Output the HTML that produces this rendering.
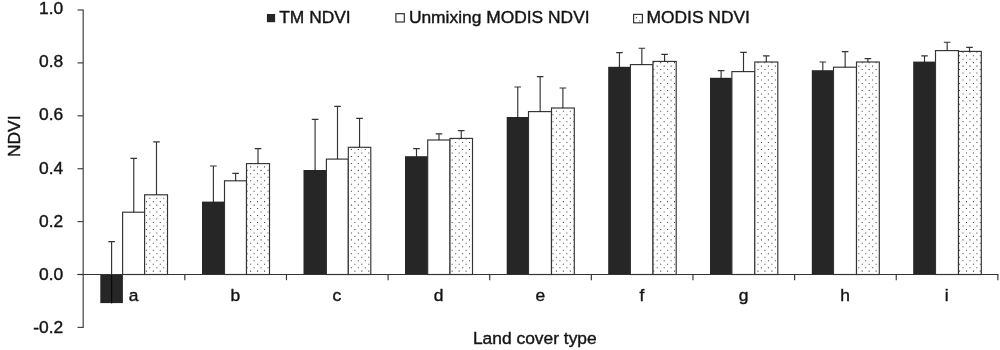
<!DOCTYPE html>
<html><head><meta charset="utf-8"><title>NDVI chart</title>
<style>
html,body{margin:0;padding:0;background:#fff;}
body{width:1000px;height:350px;overflow:hidden;}
svg{display:block;will-change:transform;}
text{font-family:"Liberation Sans",sans-serif;font-size:17.4px;fill:#141414;stroke:#141414;stroke-width:0.4px;}
</style></head><body>
<svg width="1000" height="350" viewBox="0 0 1000 350">
<rect width="1000" height="350" fill="#fff"/>

<rect x="100.30" y="274.10" width="22.60" height="29.00" fill="#262626"/>
<path d="M111.60 303.60V241.60M108.30 241.60H114.90" stroke="#000" stroke-opacity="0.8" stroke-width="1.15" fill="none"/>
<rect x="122.60" y="212.20" width="22.00" height="62.30" fill="#fff" stroke="#333" stroke-width="1.15"/>
<path d="M133.75 212.20V158.40M130.45 158.40H137.05" stroke="#000" stroke-opacity="0.8" stroke-width="1.15" fill="none"/>
<rect x="144.60" y="194.80" width="22.90" height="79.70" fill="#fff" stroke="#333" stroke-width="1.15"/>
<path d="M156.50 194.80V141.80M153.20 141.80H159.80" stroke="#000" stroke-opacity="0.8" stroke-width="1.15" fill="none"/>
<rect x="202.00" y="201.60" width="22.80" height="73.30" fill="#262626"/>
<path d="M213.40 202.00V166.00M210.10 166.00H216.70" stroke="#000" stroke-opacity="0.8" stroke-width="1.15" fill="none"/>
<rect x="224.50" y="180.80" width="22.00" height="93.70" fill="#fff" stroke="#333" stroke-width="1.15"/>
<path d="M235.65 180.80V173.40M232.35 173.40H238.95" stroke="#000" stroke-opacity="0.8" stroke-width="1.15" fill="none"/>
<rect x="246.50" y="163.60" width="23.00" height="110.90" fill="#fff" stroke="#333" stroke-width="1.15"/>
<path d="M258.00 163.60V148.60M254.70 148.60H261.30" stroke="#000" stroke-opacity="0.8" stroke-width="1.15" fill="none"/>
<rect x="303.50" y="170.00" width="23.20" height="104.90" fill="#262626"/>
<path d="M315.10 170.40V119.40M311.80 119.40H318.40" stroke="#000" stroke-opacity="0.8" stroke-width="1.15" fill="none"/>
<rect x="326.40" y="159.10" width="21.90" height="115.40" fill="#fff" stroke="#333" stroke-width="1.15"/>
<path d="M337.50 159.10V106.40M334.20 106.40H340.80" stroke="#000" stroke-opacity="0.8" stroke-width="1.15" fill="none"/>
<rect x="348.30" y="147.30" width="22.50" height="127.20" fill="#fff" stroke="#333" stroke-width="1.15"/>
<path d="M359.55 147.30V118.40M356.25 118.40H362.85" stroke="#000" stroke-opacity="0.8" stroke-width="1.15" fill="none"/>
<rect x="405.00" y="156.20" width="23.00" height="118.70" fill="#262626"/>
<path d="M416.50 156.60V148.60M413.20 148.60H419.80" stroke="#000" stroke-opacity="0.8" stroke-width="1.15" fill="none"/>
<rect x="427.70" y="140.00" width="22.30" height="134.50" fill="#fff" stroke="#333" stroke-width="1.15"/>
<path d="M439.00 140.00V133.80M435.70 133.80H442.30" stroke="#000" stroke-opacity="0.8" stroke-width="1.15" fill="none"/>
<rect x="450.00" y="138.40" width="22.50" height="136.10" fill="#fff" stroke="#333" stroke-width="1.15"/>
<path d="M461.25 138.40V130.60M457.95 130.60H464.55" stroke="#000" stroke-opacity="0.8" stroke-width="1.15" fill="none"/>
<rect x="506.70" y="117.00" width="22.10" height="157.90" fill="#262626"/>
<path d="M517.75 117.40V87.00M514.45 87.00H521.05" stroke="#000" stroke-opacity="0.8" stroke-width="1.15" fill="none"/>
<rect x="528.50" y="111.60" width="23.00" height="162.90" fill="#fff" stroke="#333" stroke-width="1.15"/>
<path d="M540.15 111.60V76.60M536.85 76.60H543.45" stroke="#000" stroke-opacity="0.8" stroke-width="1.15" fill="none"/>
<rect x="551.50" y="108.00" width="22.80" height="166.50" fill="#fff" stroke="#333" stroke-width="1.15"/>
<path d="M562.90 108.00V88.00M559.60 88.00H566.20" stroke="#000" stroke-opacity="0.8" stroke-width="1.15" fill="none"/>
<rect x="608.20" y="66.80" width="22.50" height="208.10" fill="#262626"/>
<path d="M619.45 67.20V52.60M616.15 52.60H622.75" stroke="#000" stroke-opacity="0.8" stroke-width="1.15" fill="none"/>
<rect x="630.40" y="64.60" width="22.60" height="209.90" fill="#fff" stroke="#333" stroke-width="1.15"/>
<path d="M641.85 64.60V48.20M638.55 48.20H645.15" stroke="#000" stroke-opacity="0.8" stroke-width="1.15" fill="none"/>
<rect x="653.00" y="61.40" width="23.20" height="213.10" fill="#fff" stroke="#333" stroke-width="1.15"/>
<path d="M664.60 61.40V54.40M661.30 54.40H667.90" stroke="#000" stroke-opacity="0.8" stroke-width="1.15" fill="none"/>
<rect x="710.00" y="77.80" width="22.20" height="197.10" fill="#262626"/>
<path d="M721.10 78.20V70.60M717.80 70.60H724.40" stroke="#000" stroke-opacity="0.8" stroke-width="1.15" fill="none"/>
<rect x="731.90" y="71.60" width="22.90" height="202.90" fill="#fff" stroke="#333" stroke-width="1.15"/>
<path d="M743.50 71.60V52.40M740.20 52.40H746.80" stroke="#000" stroke-opacity="0.8" stroke-width="1.15" fill="none"/>
<rect x="754.80" y="62.00" width="23.00" height="212.50" fill="#fff" stroke="#333" stroke-width="1.15"/>
<path d="M766.30 62.00V55.80M763.00 55.80H769.60" stroke="#000" stroke-opacity="0.8" stroke-width="1.15" fill="none"/>
<rect x="811.80" y="70.20" width="22.00" height="204.70" fill="#262626"/>
<path d="M822.80 70.60V62.00M819.50 62.00H826.10" stroke="#000" stroke-opacity="0.8" stroke-width="1.15" fill="none"/>
<rect x="833.50" y="67.20" width="23.00" height="207.30" fill="#fff" stroke="#333" stroke-width="1.15"/>
<path d="M845.15 67.20V51.60M841.85 51.60H848.45" stroke="#000" stroke-opacity="0.8" stroke-width="1.15" fill="none"/>
<rect x="856.50" y="62.00" width="22.80" height="212.50" fill="#fff" stroke="#333" stroke-width="1.15"/>
<path d="M867.90 62.00V58.60M864.60 58.60H871.20" stroke="#000" stroke-opacity="0.8" stroke-width="1.15" fill="none"/>
<rect x="913.20" y="61.60" width="22.60" height="213.30" fill="#262626"/>
<path d="M924.50 62.00V55.80M921.20 55.80H927.80" stroke="#000" stroke-opacity="0.8" stroke-width="1.15" fill="none"/>
<rect x="935.50" y="50.60" width="23.00" height="223.90" fill="#fff" stroke="#333" stroke-width="1.15"/>
<path d="M947.15 50.60V42.20M943.85 42.20H950.45" stroke="#000" stroke-opacity="0.8" stroke-width="1.15" fill="none"/>
<rect x="958.50" y="51.40" width="22.80" height="223.10" fill="#fff" stroke="#333" stroke-width="1.15"/>
<path d="M969.50 51.40V47.40M966.20 47.40H972.80" stroke="#000" stroke-opacity="0.8" stroke-width="1.15" fill="none"/>
<clipPath id="cp"><rect x="144.60" y="194.80" width="22.90" height="79.70"/><rect x="246.50" y="163.60" width="23.00" height="110.90"/><rect x="348.30" y="147.30" width="22.50" height="127.20"/><rect x="450.00" y="138.40" width="22.50" height="136.10"/><rect x="551.50" y="108.00" width="22.80" height="166.50"/><rect x="653.00" y="61.40" width="23.20" height="213.10"/><rect x="754.80" y="62.00" width="23.00" height="212.50"/><rect x="856.50" y="62.00" width="22.80" height="212.50"/><rect x="958.50" y="51.40" width="22.80" height="223.10"/></clipPath>
<path clip-path="url(#cp)" d="M145.85 41.77H984M142.38 45.25H984M145.85 48.73H984M142.38 52.20H984M145.85 55.67H984M142.38 59.15H984M145.85 62.62H984M142.38 66.10H984M145.85 69.58H984M142.38 73.05H984M145.85 76.53H984M142.38 80.00H984M145.85 83.47H984M142.38 86.95H984M145.85 90.42H984M142.38 93.90H984M145.85 97.38H984M142.38 100.85H984M145.85 104.33H984M142.38 107.80H984M145.85 111.28H984M142.38 114.75H984M145.85 118.22H984M142.38 121.70H984M145.85 125.17H984M142.38 128.65H984M145.85 132.13H984M142.38 135.60H984M145.85 139.08H984M142.38 142.55H984M145.85 146.03H984M142.38 149.50H984M145.85 152.98H984M142.38 156.45H984M145.85 159.93H984M142.38 163.40H984M145.85 166.88H984M142.38 170.35H984M145.85 173.83H984M142.38 177.30H984M145.85 180.78H984M142.38 184.25H984M145.85 187.73H984M142.38 191.20H984M145.85 194.68H984M142.38 198.15H984M145.85 201.63H984M142.38 205.10H984M145.85 208.58H984M142.38 212.05H984M145.85 215.53H984M142.38 219.00H984M145.85 222.48H984M142.38 225.95H984M145.85 229.43H984M142.38 232.90H984M145.85 236.38H984M142.38 239.85H984M145.85 243.33H984M142.38 246.80H984M145.85 250.28H984M142.38 253.75H984M145.85 257.23H984M142.38 260.70H984M145.85 264.18H984M142.38 267.65H984M145.85 271.12H984M142.38 274.60H984" stroke="#484848" stroke-width="1.05" stroke-dasharray="1.05 5.90" fill="none"/>
<path d="M83.2 9.4V328.1" stroke="#4a4a4a" stroke-width="1.25" fill="none"/>
<path d="M77.5 10.00H83.2" stroke="#4a4a4a" stroke-width="1.25" fill="none"/>
<path d="M77.5 62.90H83.2" stroke="#4a4a4a" stroke-width="1.25" fill="none"/>
<path d="M77.5 115.80H83.2" stroke="#4a4a4a" stroke-width="1.25" fill="none"/>
<path d="M77.5 168.70H83.2" stroke="#4a4a4a" stroke-width="1.25" fill="none"/>
<path d="M77.5 221.60H83.2" stroke="#4a4a4a" stroke-width="1.25" fill="none"/>
<path d="M77.5 274.50H83.2" stroke="#4a4a4a" stroke-width="1.25" fill="none"/>
<path d="M77.5 327.40H83.2" stroke="#4a4a4a" stroke-width="1.25" fill="none"/>
<path d="M77.50 274.5H998.4" stroke="#333" stroke-width="1.15" fill="none"/>
<path d="M184.83 274.5V280.2" stroke="#333" stroke-width="1.15" fill="none"/>
<path d="M286.46 274.5V280.2" stroke="#333" stroke-width="1.15" fill="none"/>
<path d="M388.09 274.5V280.2" stroke="#333" stroke-width="1.15" fill="none"/>
<path d="M489.72 274.5V280.2" stroke="#333" stroke-width="1.15" fill="none"/>
<path d="M591.35 274.5V280.2" stroke="#333" stroke-width="1.15" fill="none"/>
<path d="M692.98 274.5V280.2" stroke="#333" stroke-width="1.15" fill="none"/>
<path d="M794.61 274.5V280.2" stroke="#333" stroke-width="1.15" fill="none"/>
<path d="M896.24 274.5V280.2" stroke="#333" stroke-width="1.15" fill="none"/>
<path d="M997.87 274.5V280.2" stroke="#333" stroke-width="1.15" fill="none"/>
<text x="63.3" y="13.95" text-anchor="end">1.0</text>
<text x="63.3" y="67.18" text-anchor="end">0.8</text>
<text x="63.3" y="120.41" text-anchor="end">0.6</text>
<text x="63.3" y="173.64" text-anchor="end">0.4</text>
<text x="63.3" y="226.87" text-anchor="end">0.2</text>
<text x="63.3" y="280.10" text-anchor="end">0.0</text>
<text x="63.3" y="333.33" text-anchor="end">-0.2</text>
<text x="133.71" y="300.7" text-anchor="middle">a</text>
<text x="235.34" y="300.7" text-anchor="middle">b</text>
<text x="336.97" y="300.7" text-anchor="middle">c</text>
<text x="438.60" y="300.7" text-anchor="middle">d</text>
<text x="540.24" y="300.7" text-anchor="middle">e</text>
<text x="641.87" y="300.7" text-anchor="middle">f</text>
<text x="743.50" y="300.7" text-anchor="middle">g</text>
<text x="845.12" y="300.7" text-anchor="middle">h</text>
<text x="946.75" y="300.7" text-anchor="middle">i</text>
<text x="534.8" y="344.2" text-anchor="middle">Land cover type</text>
<text transform="translate(20.2 136.3) rotate(-90)" text-anchor="middle">NDVI</text>
<rect x="266.9" y="14" width="8.2" height="8.2" fill="#262626"/>
<text x="279.2" y="23.0">TM NDVI</text>
<rect x="395.9" y="13.7" width="8.4" height="8.3" fill="#fff" stroke="#333" stroke-width="1.2"/>
<text x="408.9" y="22.9">Unmixing MODIS NDVI</text>
<rect x="633.6" y="14.4" width="8.8" height="8.4" fill="#fff" stroke="#333" stroke-width="1.2"/>
<rect x="635.8" y="17" width="1.3" height="1.3" fill="#555"/><rect x="638.8" y="20.3" width="1.3" height="1.3" fill="#888"/>
<text x="646.5" y="23.0">MODIS NDVI</text>
</svg></body></html>
